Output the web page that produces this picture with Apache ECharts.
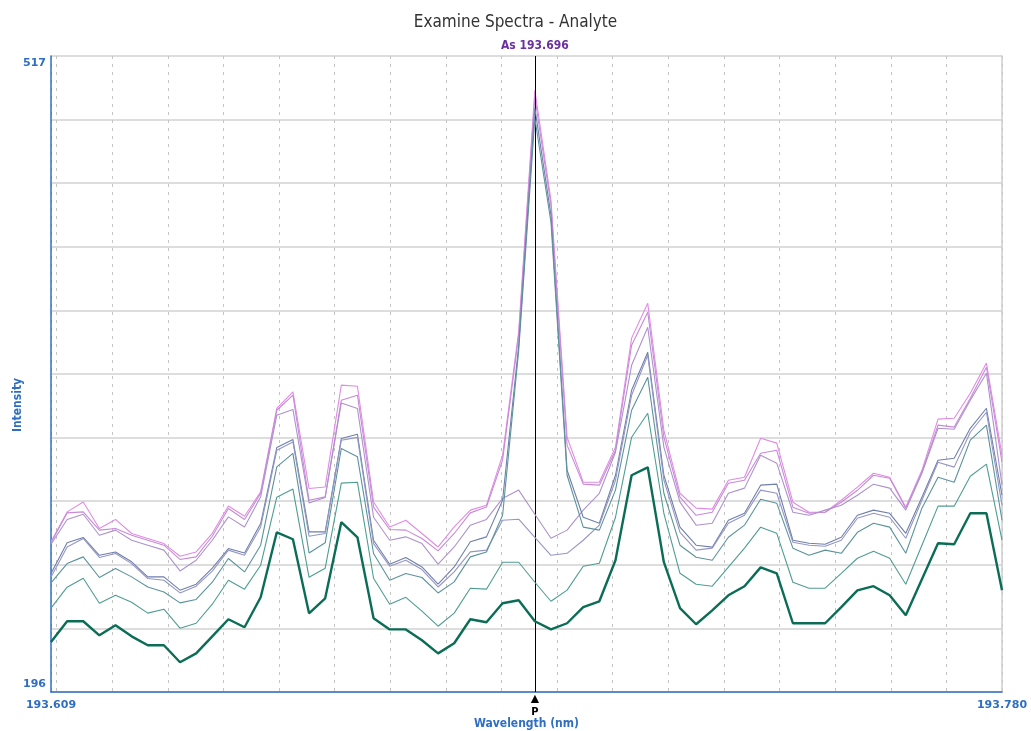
<!DOCTYPE html>
<html><head><meta charset="utf-8">
<script src="https://cdn.jsdelivr.net/npm/echarts@6/dist/echarts.min.js"></script>
<style>html,body{margin:0;padding:0;background:#fff;}#c{width:1031px;height:731px;}</style>
</head><body><div id="c"></div>
<script>
const chartTitle = 'Examine Spectra - Analyte';
const xAxisName = 'Wavelength (nm)';
const yAxisName = 'Intensity';
const peakWavelength = 193.696;
const peakLabel = 'As 193.696';
const peakMarker = 'P';
const xMin = 193.609, xMax = 193.780;
const yMin = 196, yMax = 517;

const wavelengths = [193.6090,193.6119,193.6148,193.6177,193.6206,193.6235,193.6264,193.6293,193.6322,193.6351,
193.6380,193.6409,193.6438,193.6467,193.6496,193.6525,193.6554,193.6583,193.6612,193.6641,
193.6670,193.6699,193.6728,193.6757,193.6786,193.6815,193.6844,193.6873,193.6902,193.6931,
193.6960,193.6989,193.7018,193.7047,193.7076,193.7105,193.7134,193.7163,193.7192,193.7221,
193.7250,193.7279,193.7308,193.7337,193.7366,193.7395,193.7424,193.7453,193.7482,193.7511,
193.7540,193.7569,193.7598,193.7627,193.7656,193.7685,193.7714,193.7743,193.7772,193.7800];

const s1 = [271.8,286.9,291.9,278.5,283.1,276.0,273.5,270.9,264.5,266.7,276.1,289.9,284.7,297.0,339.1,347.5,298.7,299.5,350.9,350.3,291.9,279.3,282.7,276.0,269.2,279.3,287.8,290.3,315.5,378.1,499.8,444.2,324.6,301.9,301.9,319.6,374.6,392.2,328.1,296.3,288.8,288.3,302.9,304.4,324.1,321.6,291.8,286.7,286.7,292.8,299.4,306.4,304.4,289.3,307.9,333.7,334.2,346.8,362.0,315.5];
const s2 = [271.3,286.4,286.9,277.7,278.5,275.1,272.6,270.1,262.9,264.2,274.6,288.6,283.1,296.2,338.2,345.8,292.8,294.5,343.3,345.8,289.3,278.0,277.7,273.5,267.2,276.0,286.4,289.4,313.0,376.1,496.2,441.7,320.6,300.9,300.4,318.0,371.0,387.7,324.6,294.3,285.2,286.7,301.4,302.9,316.5,318.0,289.3,286.2,286.7,291.8,297.8,305.4,303.9,288.8,306.9,330.7,329.7,344.3,359.9,312.0];
const s3 = [270.6,283.1,285.7,275.1,277.7,272.6,270.1,267.6,257.1,262.5,272.6,284.4,279.3,294.5,335.7,338.6,291.4,294.2,341.9,339.1,284.2,272.6,274.3,270.9,260.5,269.2,280.2,283.1,293.7,297.9,285.7,273.6,277.7,287.8,296.3,317.0,360.9,380.1,319.6,291.8,280.2,281.2,296.3,298.9,315.5,311.5,286.7,285.2,287.8,290.3,295.3,300.9,298.9,287.8,306.4,329.1,328.6,343.3,356.9,300.4];
const s4 = [255.8,271.3,274.0,265.0,266.7,261.7,254.1,254.1,247.4,250.4,258.5,268.4,266.2,281.0,319.4,323.4,276.8,276.8,323.9,326.1,272.6,260.5,263.9,259.1,250.4,259.1,271.8,274.3,292.8,371.0,490.7,436.7,307.9,284.2,281.2,305.4,348.3,367.5,305.4,279.2,270.1,269.1,282.7,286.2,300.4,300.9,272.6,271.1,270.6,274.1,285.2,287.8,286.2,276.1,294.3,313.0,314.0,329.1,339.2,295.3];
const s5 = [254.1,269.2,273.5,263.9,265.9,260.8,253.3,252.4,246.0,249.4,257.0,267.6,265.0,279.3,318.0,322.2,274.6,276.0,323.1,324.5,270.9,259.5,262.5,257.8,249.0,256.6,266.7,267.6,282.7,283.2,274.1,265.0,266.0,272.6,280.2,302.9,345.8,366.0,302.9,276.6,267.6,268.6,281.2,285.2,297.9,296.3,271.6,270.1,269.6,272.6,283.7,286.2,284.2,273.6,292.8,312.0,309.5,327.1,337.2,290.3];
const s6 = [251.1,260.8,264.2,253.8,258.3,254.1,249.0,246.5,241.0,242.7,251.4,263.4,256.6,270.1,309.6,316.4,266.2,271.3,318.9,314.7,265.9,252.4,255.8,253.8,246.0,251.6,264.2,266.7,285.2,368.5,485.6,433.1,305.4,279.2,277.7,297.9,338.2,354.9,296.3,270.1,264.0,262.5,274.1,280.2,293.3,291.3,268.6,265.0,267.6,266.0,276.6,281.2,279.2,266.0,288.8,304.4,301.9,323.1,330.7,282.7];
const s7 = [238.3,248.9,253.4,240.8,244.8,241.3,235.8,237.8,228.2,230.7,240.3,252.4,247.9,260.0,294.3,298.4,253.9,258.5,301.4,301.9,253.4,240.3,243.8,236.8,229.2,235.8,248.4,247.9,261.5,261.5,251.4,241.8,247.4,259.5,261.0,284.2,324.6,336.7,286.2,255.9,250.4,249.4,259.0,268.6,279.2,276.1,251.4,248.4,248.4,255.9,263.5,267.1,263.5,250.4,270.1,289.8,289.8,304.9,311.0,272.6];
const s8 = [221.2,231.7,231.7,224.6,229.7,224.1,219.6,219.6,211.0,215.5,224.1,232.7,228.7,243.8,276.6,273.1,235.7,243.3,281.7,274.1,233.2,227.6,227.6,222.1,215.5,220.6,232.7,231.2,240.8,242.3,231.7,227.6,230.7,238.8,241.8,262.5,305.4,309.4,261.5,238.3,230.2,237.2,244.8,249.4,258.9,255.9,230.7,230.7,230.7,238.8,247.3,249.4,244.8,234.7,252.9,271.1,270.6,286.2,286.2,247.3];

const allSeries = [s1, s2, s3, s4, s5, s6, s7, s8];
const lineColors = ['#e08ce4', '#c88ad8', '#ad92cc', '#6f7fab', '#9596c4', '#5b939c', '#4f9d92', '#0b6d55'];
const lineWidths = [1.1, 1.1, 1.1, 1.1, 1.1, 1.1, 1.1, 2.4];

const blue = '#2f6fc2';
const labelFont = 'DejaVu Sans';
const condFont = "'DejaVu Sans Condensed', 'Liberation Sans Narrow', 'Roboto Condensed', sans-serif";

const chart = echarts.init(document.getElementById('c'), null, {renderer: 'canvas'});

const series = allSeries.map((vals, k) => ({
  type: 'line',
  data: wavelengths.map((w, i) => [w, vals[i]]),
  showSymbol: false,
  symbol: 'none',
  silent: true,
  lineStyle: {color: lineColors[k], width: lineWidths[k]},
  z: 3 + k
}));

series[series.length - 1].markLine = {
  silent: true,
  precision: 4,
  symbol: ['none', 'none'],
  animation: false,
  lineStyle: {color: '#000', width: 1, type: 'solid'},
  data: [
    {xAxis: peakWavelength, label: {show: true, position: 'end', distance: 4, formatter: peakLabel,
      color: '#6b2fa0', fontWeight: 'bold', fontSize: 12, fontFamily: condFont}},
    {xAxis: peakWavelength, label: {show: true, position: 'start', distance: 0, formatter: '{a|▲}\n{b|' + peakMarker + '}',
      rich: {a: {fontSize: 14, color: '#000', lineHeight: 14}, b: {fontSize: 11, fontWeight: 'bold', color: '#000', lineHeight: 13, fontFamily: condFont}}}}
  ]
};

const option = {
  animation: false,
  backgroundColor: '#fff',
  title: {text: chartTitle, left: 'center', top: 9,
    textStyle: {fontFamily: condFont, fontSize: 17, fontWeight: 'normal', color: '#333'}},
  grid: {left: 51, right: 29, top: 56, bottom: 39, containLabel: false, outerBoundsMode: 'none'},
  xAxis: {
    type: 'value', min: xMin, max: xMax, splitNumber: 17,
    name: xAxisName, nameLocation: 'middle', nameGap: 26,
    nameTextStyle: {color: blue, fontWeight: 'bold', fontSize: 12, fontFamily: condFont},
    axisLine: {show: true, lineStyle: {color: blue, width: 1.5}},
    axisTick: {show: false},
    splitLine: {show: true, lineStyle: {color: '#c4c4c4', width: 1, type: [3, 5]}},
    axisLabel: {
      formatter: v => (Math.abs(v - xMin) < 1e-6 || Math.abs(v - xMax) < 1e-6) ? v.toFixed(3) : '',
      color: blue, fontWeight: 'bold', fontSize: 11, fontFamily: labelFont, margin: 8
    }
  },
  yAxis: [{
    type: 'value', min: yMin, max: yMax,
    axisLine: {show: true, lineStyle: {color: blue, width: 1.5}},
    axisTick: {show: false},
    splitLine: {show: false},
    axisLabel: {
      formatter: v => v === yMax ? '{t|' + v + '}' : (v === yMin ? '{b|' + v + '}' : ''),
      color: blue, fontWeight: 'bold', fontSize: 11, fontFamily: labelFont, margin: 5,
      rich: {t: {padding: [14, 0, 0, 0], color: blue, fontWeight: 'bold', fontSize: 11, fontFamily: labelFont},
             b: {padding: [0, 0, 16, 0], color: blue, fontWeight: 'bold', fontSize: 11, fontFamily: labelFont}}
    }
  }, {
    type: 'value', min: 0, max: 10, interval: 1, position: 'right',
    axisLine: {show: true, lineStyle: {color: '#cdcdcd', width: 1.5}},
    axisTick: {show: false}, axisLabel: {show: false},
    splitLine: {show: true, lineStyle: {color: '#d2d2d2', width: 1.5}}
  }],
  graphic: [{
    type: 'text', x: 18, y: 405, rotation: Math.PI / 2,
    style: {text: yAxisName, fill: blue, font: 'bold 12px ' + condFont, align: 'center', verticalAlign: 'middle'}
  }],
  series: series
};
chart.setOption(option);
</script>
</body></html>
